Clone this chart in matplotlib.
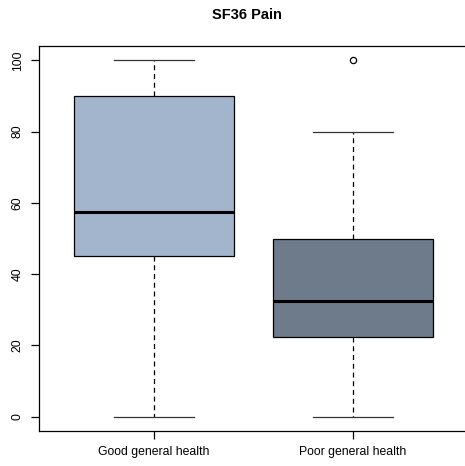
import matplotlib
matplotlib.use('Agg')
import matplotlib.pyplot as plt

plt.rcParams['font.family'] = ['Liberation Sans', 'DejaVu Sans']

groups = ['Good general health', 'Poor general health']
whislo = [0, 0]
q1 = [45, 22.5]
med = [57.5, 32.5]
q3 = [90, 50]
whishi = [100, 80]
fliers = [[], [100]]
colors = ['#A2B5CD', '#6E7B8B']

stats = []
for i in range(len(groups)):
    stats.append(dict(label=groups[i], whislo=whislo[i], q1=q1[i], med=med[i],
                      q3=q3[i], whishi=whishi[i], fliers=fliers[i]))

fig = plt.figure(figsize=(4.65, 4.66), dpi=100)
ax = fig.add_axes([39/465, 35/466, 429/465, 385/466])

bp = ax.bxp(stats, positions=[1, 2], widths=0.8, patch_artist=True,
            boxprops=dict(linewidth=0.9, edgecolor='black'),
            medianprops=dict(color='black', linewidth=2.2),
            whiskerprops=dict(color='black', linewidth=0.9, linestyle=(0, (4, 3))),
            capprops=dict(color='#333333', linewidth=0.9),
            capwidths=0.4,
            flierprops=dict(marker='o', markersize=4.5, markerfacecolor='none',
                            markeredgecolor='black', markeredgewidth=0.9))
for patch, c in zip(bp['boxes'], colors):
    patch.set_facecolor(c)

ax.set_xlim(0.422, 2.578)
ax.set_ylim(-4, 104)
ax.set_yticks([0, 20, 40, 60, 80, 100])
ax.set_yticklabels(['0', '20', '40', '60', '80', '100'], rotation=90, va='center')
ax.tick_params(direction='out', length=6, width=0.9, labelsize=8.8, pad=5)
for s in ax.spines.values():
    s.set_linewidth(0.9)

fig.text(0.5 + 14/465, 1 - 15/466, 'SF36 Pain', ha='center', va='center',
         fontsize=10.5, fontweight='bold')

fig.savefig('out.png', dpi=100)
